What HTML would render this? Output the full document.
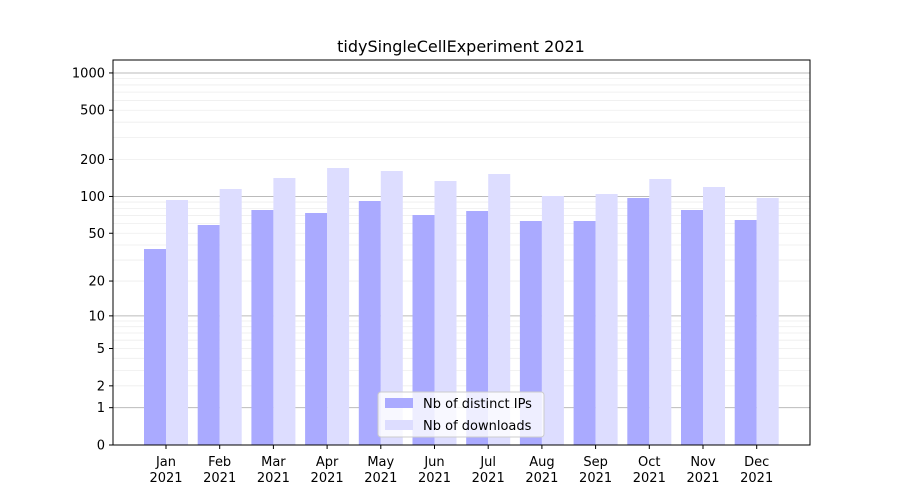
<!DOCTYPE html>
<html><head><meta charset="utf-8"><style>body{margin:0;background:#fff}svg{display:block}text{font-family:"DejaVu Sans","Liberation Sans",sans-serif;font-size:13px;fill:#000}</style></head><body>
<svg width="900" height="500" xmlns="http://www.w3.org/2000/svg">
<rect width="900" height="500" fill="#fff"/>
<g id="grid"></g>
<g id="bars"></g>
<rect x="113" y="60" width="697" height="385" fill="none" stroke="#000" stroke-width="1"/>
<text x="461" y="52" text-anchor="middle" style="font-size:16px">tidySingleCellExperiment 2021</text>
<g id="ticks"></g>
<g>
<rect x="378" y="392" width="166" height="45" rx="3" fill="#fff" fill-opacity="0.8" stroke="#ccc"/>
<rect x="385" y="398" width="28" height="10" fill="#aaaaff"/>
<text x="423" y="408">Nb of distinct IPs</text>
<rect x="385" y="420" width="28" height="10" fill="#ddddff"/>
<text x="423" y="430">Nb of downloads</text>
</g>
</svg>
<script>
const ns="http://www.w3.org/2000/svg";
function el(p,t,a,txt){const e=document.createElementNS(ns,t);for(const k in a)e.setAttribute(k,a[k]);if(txt)e.textContent=txt;document.getElementById(p).appendChild(e);return e;}
const Y=v=>445-124*Math.log10(1+v);
for(const d of [1,10,100]){for(let m=1;m<10;m++){const v=d*m;const y=Y(v);
el("grid","line",{x1:113,x2:810,y1:y,y2:y,stroke:m==1?"#bbb":"#eee","stroke-width":m==1?1:0.8});}}
el("grid","line",{x1:113,x2:810,y1:Y(1000),y2:Y(1000),stroke:"#bbb"});
for(const v of [0,1,2,5,10,20,50,100,200,500,1000]){const y=Y(v);
el("ticks","line",{x1:109,x2:113,y1:y,y2:y,stroke:"#000"});
el("ticks","text",{x:105,y:y+4.5,"text-anchor":"end"},String(v));}
const mon=["Jan","Feb","Mar","Apr","May","Jun","Jul","Aug","Sep","Oct","Nov","Dec"];
const ip=[249,225,210,213,201,215,211,221,221,198,210,220];
const dl=[200,189,178,168,171,181,174,196,194,179,187,198];
mon.forEach((m,i)=>{const c=166+i*53.7;
el("grid","rect",{x:c-22,y:ip[i],width:22,height:445-ip[i],fill:"#aaaaff"});
el("grid","rect",{x:c,y:dl[i],width:22,height:445-dl[i],fill:"#ddddff"});
el("ticks","line",{x1:c,x2:c,y1:445,y2:449,stroke:"#000"});
el("ticks","text",{x:c,y:466,"text-anchor":"middle"},m);
el("ticks","text",{x:c,y:482,"text-anchor":"middle"},"2021");});
</script>
</body></html>
